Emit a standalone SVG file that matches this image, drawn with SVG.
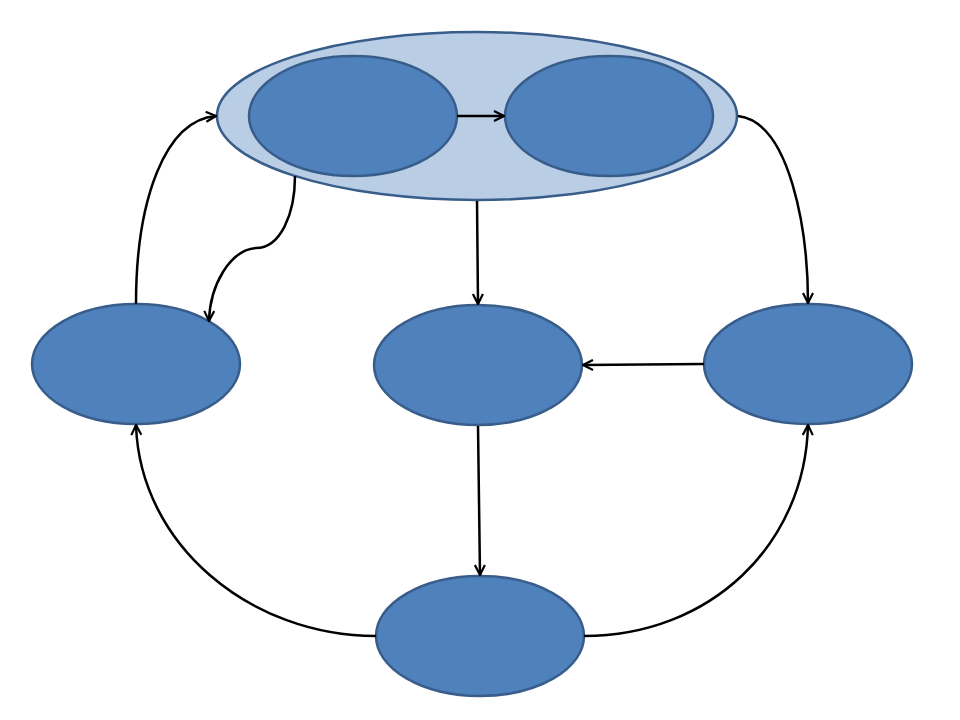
<svg xmlns="http://www.w3.org/2000/svg" width="960" height="720" viewBox="0 0 960 720">
<style>
.node{fill:#4F81BD;stroke:#385D8A;stroke-width:2.5}
.outer{fill:#B9CDE5;stroke:#385D8A;stroke-width:2.5}
.edge{fill:none;stroke:#000;stroke-width:2.5;marker-end:url(#arr)}
</style>
<defs>
<marker id="arr" viewBox="0 0 12 12" refX="11" refY="6" markerWidth="12" markerHeight="12" markerUnits="userSpaceOnUse" orient="auto">
<path d="M1,1 L11,6 L1,11" fill="none" stroke="#000" stroke-width="2.2"/>
</marker>
</defs>
<rect width="960" height="720" fill="#fff"/>
<g id="group-top">
<ellipse class="outer" cx="477" cy="116" rx="260" ry="84"/>
</g>
<g id="node-top-left"><ellipse class="node" cx="353" cy="116" rx="104" ry="60"/></g>
<g id="node-top-right"><ellipse class="node" cx="609" cy="116" rx="104" ry="60"/></g>
<g id="node-left"><ellipse class="node" cx="136" cy="364" rx="104" ry="60"/></g>
<g id="node-center"><ellipse class="node" cx="478" cy="365" rx="104" ry="60"/></g>
<g id="node-right"><ellipse class="node" cx="808" cy="364" rx="104" ry="60"/></g>
<g id="node-bottom"><ellipse class="node" cx="480" cy="636" rx="104" ry="60"/></g>
<g id="connectors">
<path class="edge" d="M457,116 L504,116"/>
<path class="edge" d="M136,304 C136,200 165,120 216,116"/>
<path class="edge" d="M738,116 C790,122 808,230 808,303"/>
<path class="edge" d="M295,176 C295,215 280,248 256,248 C230,250 210,285 209,321"/>
<path class="edge" d="M477,201 L478,304"/>
<path class="edge" d="M704,364 L583,365"/>
<path class="edge" d="M478,426 L480,575"/>
<path class="edge" d="M376,636 C250,636 140,545 136,425"/>
<path class="edge" d="M584,636 C710,636 805,545 808,425"/>
</g>
</svg>
